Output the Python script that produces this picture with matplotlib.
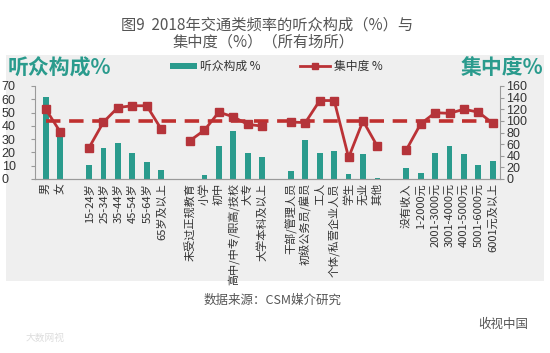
import matplotlib
matplotlib.use("Agg")
import matplotlib.pyplot as plt
from matplotlib.patches import Rectangle
from matplotlib.lines import Line2D

plt.rcParams['font.family'] = ['Noto Sans CJK SC', 'DejaVu Sans']

# ---- data ----
groups = [
    ["男", "女"],
    ["15-24岁", "25-34岁", "35-44岁", "45-54岁", "55-64岁", "65岁及以上"],
    ["未受过正规教育", "小学", "初中", "高中/中专/职高/技校", "大专", "大学本科及以上"],
    ["干部/管理人员", "初级公务员/雇员", "工人", "个体/私营企业人员", "学生", "无业", "其他"],
    ["没有收入", "1-2000元", "2001-3000元", "3001-4000元", "4001-5000元", "5001-6000元", "6001元及以上"],
]
composition = [
    [62, 37],
    [10.5, 23.5, 27, 19.5, 13, 7],
    [0.3, 3, 25, 36, 19.7, 16.5],
    [5.7, 29.5, 19.7, 21.2, 3.7, 19, 0.4],
    [8, 4.7, 19.5, 25, 19, 10.7, 13.2],
]
concentration = [
    [120, 81],
    [54, 98, 123, 126, 126, 86],
    [66, 84, 115, 107, 94, 91],
    [98, 97, 135, 135, 37, 100, 56],
    [50, 95, 114, 113, 120, 115, 96],
]
baseline = 100
left_ticks = [0, 10, 20, 30, 40, 50, 60, 70]
right_ticks = [0, 20, 40, 60, 80, 100, 120, 140, 160]

W, H = 550, 353
fig = plt.figure(figsize=(W / 100, H / 100), dpi=100)

def fx(px):
    return px / W

def fy(py):
    return 1 - py / H

# background panel
fig.patches.append(Rectangle((fx(6), fy(281)), fx(538), (281 - 55) / H,
                             transform=fig.transFigure, facecolor='#efefef',
                             edgecolor='none', zorder=-10))

ax = fig.add_axes([fx(35), fy(179), fx(500) - fx(35), fy(86) - fy(179)])
ax.set_facecolor('none')
ax2 = ax.twinx()
ax2.set_facecolor('none')

teal = '#2a9b8d'
red = '#bb3236'

# positions with gaps between groups
positions = []
labels = []
pos = 0
for gi, g in enumerate(groups):
    grp_pos = []
    for lab in g:
        grp_pos.append(pos)
        labels.append(lab)
        pos += 1
    positions.append(grp_pos)
    pos += 1  # gap slot

all_pos = [p for gp in positions for p in gp]
all_comp = [v for gv in composition for v in gv]
ax.bar(all_pos, all_comp, width=0.4, color=teal, zorder=2)

for gp, gv in zip(positions, concentration):
    ax2.plot(gp, gv, color=red, lw=2, marker='s', markersize=5.5,
             markerfacecolor='#b5343a', markeredgecolor='#b5343a', zorder=4)
ax2.plot([all_pos[0], all_pos[-1]], [baseline, baseline], color='#c0302f',
         lw=2.6, dashes=(4, 2.4), zorder=3)

ax.set_xlim(-0.75, all_pos[-1] + 0.5)
ax.set_ylim(0, 70)
ax2.set_ylim(0, 160)
ax.set_yticks(left_ticks)
ax2.set_yticks(right_ticks)
ax.set_xticks(all_pos)
ax.set_xticklabels(labels, rotation=90, fontsize=8, color='#333333')
ax.tick_params(axis='x', length=0, pad=3)

for a in (ax, ax2):
    a.spines['top'].set_visible(False)
    for s in ('left', 'right', 'bottom'):
        a.spines[s].set_color('#9a9a9a')
        a.spines[s].set_linewidth(0.8)
ax.spines['right'].set_visible(False)
ax2.spines['left'].set_visible(False)

ax.tick_params(axis='y', length=3, width=0.8, color='#9a9a9a', pad=21,
               labelsize=9, labelcolor='#333333')
for t in ax.get_yticklabels():
    t.set_horizontalalignment('left')
    t.set_fontfamily(['Liberation Sans'])
ax2.tick_params(axis='y', length=3, width=0.8, color='#9a9a9a', pad=1.5,
                labelsize=9, labelcolor='#333333')
for t in ax2.get_yticklabels():
    t.set_fontfamily(['Liberation Sans'])

# titles
fig.text(fx(267), fy(25), "图9  2018年交通类频率的听众构成（%）与", ha='center', va='center',
         fontsize=11, color='#555555')
fig.text(fx(263), fy(42), "集中度（%）（所有场所）", ha='center', va='center',
         fontsize=11, color='#555555')

# axis titles
fig.text(fx(8), fy(68), "听众构成%", ha='left', va='center', fontsize=15,
         fontweight='bold', color=teal)
fig.text(fx(543), fy(68), "集中度%", ha='right', va='center', fontsize=15,
         fontweight='bold', color=teal)

# legend
fig.patches.append(Rectangle((fx(170), fy(68.5)), fx(27), 5 / H, transform=fig.transFigure,
                             facecolor=teal, edgecolor='none'))
fig.text(fx(200), fy(66), "听众构成 %", ha='left', va='center', fontsize=8.5, color='#333333')
fig.lines.append(Line2D([fx(300), fx(330)], [fy(66), fy(66)], transform=fig.transFigure,
                        color=red, lw=2))
fig.lines.append(Line2D([fx(315)], [fy(66)], transform=fig.transFigure,
                        color='#b5343a', marker='s', markersize=5, lw=0))
fig.text(fx(334), fy(66), "集中度 %", ha='left', va='center', fontsize=8.5, color='#333333')

# source
fig.text(fx(273), fy(300), "数据来源：CSM媒介研究", ha='center', va='center',
         fontsize=9, color='#555555')
fig.text(fx(503), fy(324), "收视中国", ha='center', va='center', fontsize=9, color='#555555')
fig.text(fx(45), fy(338), "大数网视", ha='center', va='center', fontsize=7, color='#dddddd')

fig.savefig("out.png", dpi=100)
